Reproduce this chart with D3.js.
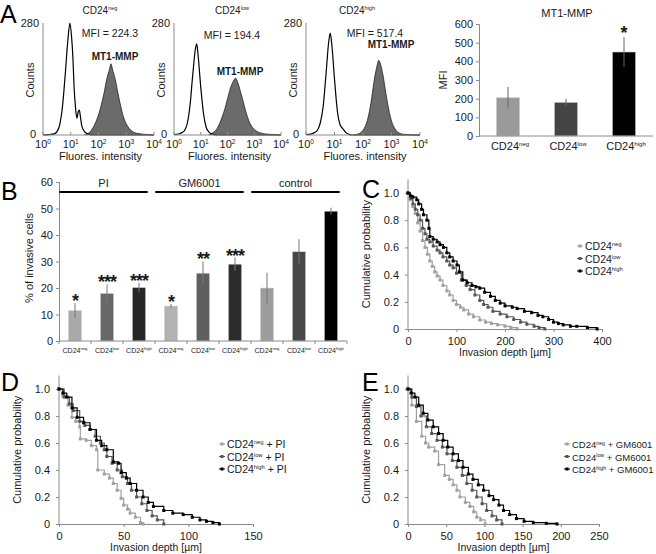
<!DOCTYPE html>
<html><head><meta charset="utf-8">
<script src="https://cdn.jsdelivr.net/npm/d3@7"></script>
<style>body{margin:0;background:#fff}svg{display:block;font-family:"Liberation Sans",Arial,sans-serif}</style>
</head><body><svg id="c" width="656" height="554"></svg>
<script>
// ---------------- DATA ----------------
const histSubsets = ["neg", "low", "high"];
const histMFI = ["224.3", "194.4", "517.4"];
const histDecadeTicks = [0, 1, 2, 3, 4];
// [log10 decade, counts]
const hist1Open = [[0,0],[0.2,1],[0.4,3],[0.5,8],[0.6,25],[0.7,70],[0.8,150],[0.9,240],[0.97,280],[1.03,245],[1.08,190],[1.12,120],[1.17,70],[1.22,42],[1.27,58],[1.31,62],[1.35,45],[1.4,22],[1.5,8],[1.6,3],[1.7,1],[1.8,0],[4,0]];
const hist1Fill = [[1.5,0],[1.6,3],[1.7,8],[1.8,18],[1.9,32],[2.0,50],[2.1,75],[2.2,105],[2.3,140],[2.4,165],[2.45,178],[2.5,165],[2.6,140],[2.7,105],[2.8,72],[2.9,45],[3.0,28],[3.1,17],[3.2,10],[3.3,6],[3.4,4],[3.5,3],[3.6,2],[3.8,1],[4.0,0]];
const hist2Open = [[0,1],[0.2,3],[0.3,6],[0.4,12],[0.5,30],[0.6,75],[0.7,150],[0.8,215],[0.85,228],[0.9,200],[1.0,120],[1.1,55],[1.2,20],[1.3,8],[1.4,3],[1.5,1],[1.6,0],[4,0]];
const hist2Fill = [[1.3,0],[1.4,3],[1.5,8],[1.6,15],[1.7,28],[1.8,45],[1.9,65],[2.0,90],[2.1,115],[2.2,132],[2.3,142],[2.4,128],[2.5,105],[2.6,80],[2.7,55],[2.8,35],[2.9,22],[3.0,14],[3.1,9],[3.2,6],[3.3,4],[3.5,2],[3.8,1],[4.0,0]];
const hist3Open = [[0,1],[0.2,3],[0.3,6],[0.4,12],[0.5,30],[0.6,70],[0.7,150],[0.8,235],[0.85,255],[0.9,230],[1.0,140],[1.1,60],[1.2,25],[1.3,15],[1.4,6],[1.5,2],[1.6,0],[4,0]];
const hist3Fill = [[1.7,0],[1.8,2],[1.9,5],[2.0,12],[2.1,25],[2.2,50],[2.3,90],[2.4,140],[2.5,175],[2.55,187],[2.6,180],[2.7,150],[2.8,105],[2.9,65],[3.0,35],[3.1,18],[3.2,8],[3.3,4],[3.4,2],[3.6,1],[3.8,0],[4,0]];

const mfiCats = ["neg", "low", "high"];
const mfiValues = [205, 180, 450];
const mfiErrors = [58, 20, 80];
const mfiTicks = [0, 100, 200, 300, 400, 500, 600];

const invCats = ["neg", "low", "high", "neg", "low", "high", "neg", "low", "high"];
const invValues = [11.5, 18, 20.2, 13.2, 25.6, 29, 20, 33.7, 49];
const invErrors = [2.8, 3.4, 1.8, 0.8, 4.5, 2.5, 5.8, 4.7, 1.3];
const invStars = ["*", "***", "***", "*", "**", "***", "", "", ""];
const invGroups = ["PI", "GM6001", "control"];
const invTicks = [0, 10, 20, 30, 40, 50, 60];

const probTicks = [0, 0.2, 0.4, 0.6, 0.8, 1.0];
// [depth µm, cumulative probability]
const cNeg = [[0,1],[5,0.95],[10,0.9],[15,0.85],[20,0.78],[25,0.72],[30,0.65],[35,0.6],[40,0.55],[45,0.5],[50,0.46],[55,0.42],[60,0.39],[66,0.36],[72,0.32],[80,0.28],[86,0.25],[93,0.21],[100,0.18],[108,0.16],[115,0.14],[125,0.11],[135,0.09],[148,0.066],[160,0.05],[172,0.04],[185,0.03],[200,0.02],[212,0.01],[225,0]];
const cLow = [[0,1],[5,0.96],[10,0.92],[15,0.88],[20,0.84],[25,0.8],[30,0.74],[35,0.7],[39,0.66],[45,0.64],[52,0.61],[60,0.58],[66,0.56],[72,0.53],[80,0.5],[86,0.47],[93,0.45],[100,0.41],[110,0.36],[120,0.32],[128,0.29],[138,0.25],[148,0.21],[156,0.18],[165,0.16],[175,0.13],[190,0.11],[204,0.09],[218,0.07],[232,0.05],[245,0.035],[260,0.02],[270,0.01],[282,0]];
const cHigh = [[0,1],[5,0.98],[10,0.97],[18,0.95],[22,0.92],[28,0.88],[32,0.84],[39,0.8],[43,0.74],[45,0.68],[52,0.66],[60,0.64],[66,0.62],[73,0.6],[80,0.56],[86,0.53],[93,0.5],[101,0.47],[106,0.42],[113,0.36],[122,0.34],[132,0.32],[140,0.31],[148,0.3],[158,0.27],[170,0.24],[180,0.21],[190,0.19],[200,0.17],[215,0.16],[225,0.15],[240,0.13],[255,0.12],[268,0.1],[278,0.09],[290,0.07],[300,0.05],[310,0.04],[320,0.03],[335,0.02],[348,0.02],[370,0.01],[390,0]];
const dNeg = [[0,1],[3,0.95],[7,0.88],[10,0.79],[13,0.76],[16,0.72],[16.5,0.63],[21,0.62],[25,0.58],[29,0.55],[30,0.4],[35,0.37],[39,0.34],[42,0.3],[45,0.25],[48,0.19],[50,0.14],[53,0.11],[55,0.08],[59,0.05],[63,0.01],[65,0]];
const dLow = [[0,1],[4,0.94],[8,0.89],[11,0.84],[16,0.76],[20,0.73],[24,0.7],[28,0.65],[32,0.6],[35,0.55],[37,0.5],[41,0.45],[45,0.4],[49,0.35],[53,0.3],[56,0.25],[60,0.2],[64,0.15],[68,0.1],[72,0.06],[76,0.03],[81,0]];
const dHigh = [[0,1],[3,0.97],[6,0.94],[10,0.86],[14,0.79],[19,0.75],[24,0.7],[29,0.62],[33,0.58],[37,0.55],[42,0.46],[46,0.45],[48,0.38],[52,0.34],[55,0.3],[60,0.25],[65,0.2],[69,0.16],[73,0.13],[81,0.1],[88,0.08],[96,0.07],[103,0.05],[109,0.03],[114,0.02],[119,0.01],[124,0]];
const eNeg = [[0,1],[5,0.88],[11,0.76],[18,0.65],[23,0.6],[27,0.57],[35,0.54],[40,0.44],[48,0.36],[54,0.33],[59,0.29],[64,0.25],[68,0.2],[75,0.16],[81,0.13],[86,0.09],[90,0.05],[95,0.03],[101,0]];
const eLow = [[0,1],[5,0.94],[11,0.87],[17,0.8],[24,0.72],[31,0.67],[38,0.62],[45,0.57],[51,0.52],[58,0.47],[64,0.42],[71,0.36],[77,0.3],[84,0.25],[90,0.2],[97,0.15],[103,0.1],[110,0.06],[116,0.03],[123,0]];
const eHigh = [[0,1],[4,0.97],[9,0.94],[14,0.88],[20,0.82],[26,0.77],[33,0.72],[40,0.67],[46,0.62],[52,0.57],[59,0.52],[66,0.47],[72,0.42],[79,0.37],[85,0.33],[92,0.29],[99,0.25],[106,0.21],[112,0.18],[119,0.14],[125,0.1],[133,0.07],[142,0.04],[152,0.02],[164,0.01],[181,0.005],[195,0]];

// ---------------- DRAW ----------------
const svg = d3.select("#c");
svg.append("rect").attr("width", 656).attr("height", 554).attr("fill", "#fff");
const AX = "#8a8a8a", TXT = "#1a1a1a";
const FF = "Liberation Sans, Arial, sans-serif";

function supText(g, x, y, base, sup, fs, anchor, ratio) {
  ratio = ratio || 0.6;
  const t = g.append("text").attr("x", x).attr("y", y).attr("font-size", fs)
    .attr("fill", TXT).attr("text-anchor", anchor || "middle");
  t.append("tspan").text(base);
  t.append("tspan").attr("font-size", fs * ratio).attr("dy", -fs * 0.36).text(sup);
  return t;
}
function plainText(g, x, y, s, fs, opts) {
  opts = opts || {};
  const t = g.append("text").attr("x", x).attr("y", y).attr("font-size", fs).attr("fill", TXT)
    .attr("text-anchor", opts.anchor || "middle").text(s);
  if (opts.bold) t.attr("font-weight", "bold");
  if (opts.rotate) t.attr("transform", `rotate(-90,${x},${y})`);
  return t;
}
function letter(x, y, s) {
  svg.append("text").attr("x", x).attr("y", y).attr("font-size", 25).attr("fill", "#000").text(s);
}
function styleAxis(g) {
  g.selectAll("path,line").attr("stroke", AX);
  g.selectAll("text").attr("fill", TXT);
}

letter(0, 23, "A"); letter(1, 200, "B"); letter(362, 198, "C"); letter(1, 391, "D"); letter(362, 391, "E");

// ---- Panel A histograms ----
const histLayouts = [{x0: 43, x1: 154}, {x0: 174, x1: 281}, {x0: 306, x1: 420}];
const histOpen = [hist1Open, hist2Open, hist3Open];
const histFill = [hist1Fill, hist2Fill, hist3Fill];
const titlePos = [100, 232, 357];
const mfiPos = [[110, 37], [232, 39], [375, 37]];
const mtPos = [[115, 60], [240, 75], [391, 48]];
histLayouts.forEach((L, i) => {
  const g = svg.append("g");
  const x = d3.scaleLinear().domain([0, 4]).range([L.x0, L.x1]);
  const y = d3.scaleLinear().domain([0, 280]).range([135, 23]);
  const area = d3.area().x(d => x(d[0])).y0(y(0)).y1(d => y(d[1])).curve(d3.curveMonotoneX);
  const line = d3.line().x(d => x(d[0])).y(d => y(d[1])).curve(d3.curveMonotoneX);
  g.append("path").datum(histFill[i]).attr("d", area).attr("fill", "#6b6b6b");
  g.append("path").datum(histFill[i]).attr("d", line).attr("fill", "none").attr("stroke", "#222").attr("stroke-width", 0.8);
  g.append("path").datum(histOpen[i]).attr("d", line).attr("fill", "none").attr("stroke", "#000").attr("stroke-width", 1.2);
  g.append("line").attr("x1", L.x0).attr("x2", L.x0).attr("y1", y(280)).attr("y2", y(0)).attr("stroke", AX);
  g.append("line").attr("x1", L.x0).attr("x2", L.x1).attr("y1", y(0)).attr("y2", y(0)).attr("stroke", AX);
  histDecadeTicks.forEach(d => {
    g.append("line").attr("x1", x(d)).attr("x2", x(d)).attr("y1", y(0)).attr("y2", y(0) - 3).attr("stroke", AX);
    supText(g, x(d), 148, "10", String(d), 11);
  });
  plainText(g, L.x0 - 4, y(280) + 4, "280", 11, {anchor: "end"});
  plainText(g, L.x0 - 7, y(0) + 3, "0", 11, {anchor: "end"});
  plainText(g, L.x0 - 9, 80, "Counts", 11, {rotate: true});
  plainText(g, (L.x0 + L.x1) / 2 + 2, 160, "Fluores. intensity", 11);
  supText(g, titlePos[i], 14, "CD24", histSubsets[i], 10, "middle", 0.55);
  plainText(g, mfiPos[i][0], mfiPos[i][1], "MFI = " + histMFI[i], 10.5);
  plainText(g, mtPos[i][0], mtPos[i][1], "MT1-MMP", 10, {bold: true});
});

// ---- Panel A bar chart ----
{
  const g = svg.append("g");
  const x = d3.scaleBand().domain(mfiCats).range([479, 653]).paddingInner(0.6).paddingOuter(0.3);
  const y = d3.scaleLinear().domain([0, 600]).range([136, 24]);
  const cols = ["#9a9a9a", "#444", "#000"];
  g.selectAll("rect.b").data(mfiValues).join("rect")
    .attr("x", (d, i) => x(mfiCats[i])).attr("width", x.bandwidth())
    .attr("y", d => y(d)).attr("height", d => y(0) - y(d)).attr("fill", (d, i) => cols[i])
    .attr("stroke", "#ccc").attr("stroke-width", 0.6);
  g.selectAll("line.e").data(mfiValues).join("line")
    .attr("x1", (d, i) => x(mfiCats[i]) + x.bandwidth() / 2).attr("x2", (d, i) => x(mfiCats[i]) + x.bandwidth() / 2)
    .attr("y1", (d, i) => y(d - mfiErrors[i])).attr("y2", (d, i) => y(d + mfiErrors[i]))
    .attr("stroke", "#666").attr("stroke-width", 1);
  const ya = g.append("g").attr("transform", "translate(479,0)")
    .call(d3.axisLeft(y).tickValues(mfiTicks).tickSize(3).tickFormat(d3.format("d")));
  ya.selectAll("text").attr("font-size", 11).attr("font-family", FF);
  styleAxis(ya);
  g.append("line").attr("x1", 479).attr("x2", 653).attr("y1", y(0)).attr("y2", y(0)).attr("stroke", AX);
  mfiCats.forEach(c => supText(g, x(c) + x.bandwidth() / 2 + 2, 150, "CD24", c, 11, "middle", 0.55));
  plainText(g, 447, 80, "MFI", 11, {rotate: true});
  plainText(g, 567, 17, "MT1-MMP", 11);
  plainText(g, x("high") + x.bandwidth() / 2, y(mfiValues[2] + mfiErrors[2]) + 2, "*", 18, {bold: true});
}

// ---- Panel B ----
{
  const g = svg.append("g");
  const idx = d3.range(invValues.length);
  const x = d3.scaleBand().domain(idx).range([59, 347]).paddingInner(0.58).paddingOuter(0.29);
  const y = d3.scaleLinear().domain([0, 60]).range([341, 182]);
  const cols = ["#aaaaaa", "#686868", "#262626", "#b2b2b2", "#5f5f5f", "#2c2c2c", "#9c9c9c", "#474747", "#000"];
  g.selectAll("rect").data(invValues).join("rect")
    .attr("x", (d, i) => x(i)).attr("width", x.bandwidth())
    .attr("y", d => y(d)).attr("height", d => y(0) - y(d)).attr("fill", (d, i) => cols[i])
    .attr("stroke", "#ddd").attr("stroke-width", 0.6);
  g.selectAll("line.e").data(invValues).join("line")
    .attr("x1", (d, i) => x(i) + x.bandwidth() / 2).attr("x2", (d, i) => x(i) + x.bandwidth() / 2)
    .attr("y1", (d, i) => y(d - invErrors[i])).attr("y2", (d, i) => y(d + invErrors[i]))
    .attr("stroke", "#777").attr("stroke-width", 1);
  invStars.forEach((s, i) => {
    if (!s) return;
    plainText(g, x(i) + x.bandwidth() / 2, y(invValues[i] + invErrors[i]) + 4, s, 18, {bold: true})
      .attr("letter-spacing", -1);
  });
  const ya = g.append("g").attr("transform", "translate(59,0)")
    .call(d3.axisLeft(y).tickValues(invTicks).tickSize(3));
  ya.selectAll("text").attr("font-size", 11).attr("font-family", FF);
  styleAxis(ya);
  g.append("line").attr("x1", 59).attr("x2", 347).attr("y1", y(0)).attr("y2", y(0)).attr("stroke", AX);
  d3.range(10).forEach(k => {
    const xx = 59 + k * (288 / 9);
    g.append("line").attr("x1", xx).attr("x2", xx).attr("y1", y(0)).attr("y2", y(0) + 3).attr("stroke", AX);
  });
  invCats.forEach((c, i) => supText(g, x(i) + x.bandwidth() / 2, 353, "CD24", c, 7, "middle", 0.6));
  invGroups.forEach((name, k) => {
    const xs = x(3 * k) - 9, xe = x(3 * k + 2) + x.bandwidth() + 2;
    g.append("line").attr("x1", xs).attr("x2", xe).attr("y1", 192).attr("y2", 192).attr("stroke", "#000").attr("stroke-width", 2);
    plainText(g, (xs + xe) / 2, 187, name, 11);
  });
  plainText(g, 33, 258, "% of invasive cells", 11, {rotate: true});
}

// ---- Survival panels ----
const greys = ["#a0a0a0", "#555555", "#000000"];
function survival(opts) {
  const g = svg.append("g");
  const x = d3.scaleLinear().domain([0, opts.xmax]).range([opts.x0, opts.x1]);
  const y = d3.scaleLinear().domain([0, 1]).range([opts.yb, opts.yt]);
  g.append("line").attr("x1", opts.x0).attr("x2", opts.x0).attr("y1", y(0)).attr("y2", y(1.1)).attr("stroke", AX);
  const ya = g.append("g").attr("transform", `translate(${opts.x0},0)`)
    .call(d3.axisLeft(y).tickValues(probTicks).tickSize(3).tickFormat(d => d === 0 ? "0" : d3.format(".1f")(d)));
  ya.select(".domain").remove();
  ya.selectAll("text").attr("font-size", 11).attr("font-family", FF).attr("dx", -3);
  styleAxis(ya);
  const xa = g.append("g").attr("transform", `translate(0,${y(0)})`)
    .call(d3.axisBottom(x).tickValues(opts.xticks).tickSize(3).tickSizeOuter(0));
  xa.selectAll("text").attr("font-size", 11).attr("font-family", FF).attr("dy", "0.9em");
  styleAxis(xa);
  const line = d3.line().x(d => x(d[0])).y(d => y(d[1])).curve(d3.curveStepAfter);
  opts.series.forEach((s, i) => {
    g.append("path").datum(s).attr("d", line).attr("fill", "none").attr("stroke", greys[i]).attr("stroke-width", 1.2);
    g.selectAll(null).data(s).join("rect")
      .attr("x", d => x(d[0]) - 1.5).attr("y", d => y(d[1]) - 1.5).attr("width", 3).attr("height", 3).attr("fill", greys[i]);
  });
  plainText(g, opts.x0 - 38, (y(0) + y(1.1)) / 2, "Cumulative probability", 11, {rotate: true});
  plainText(g, (opts.x0 + opts.x1) / 2, y(0) + 27, "Invasion depth [µm]", 10.5);
  const fs = opts.lfs;
  opts.legend.forEach((lab, i) => {
    const ly = opts.ly + i * 12.5;
    g.append("line").attr("x1", opts.lx - 3).attr("x2", opts.lx + 3).attr("y1", ly).attr("y2", ly).attr("stroke", greys[i]);
    g.append("rect").attr("x", opts.lx - 1.5).attr("y", ly - 1.5).attr("width", 3).attr("height", 3).attr("fill", greys[i]);
    const t = supText(g, opts.lx + 5, ly + 4, "CD24", histSubsets[i], fs, "start", 0.55);
    if (opts.suffix) t.append("tspan").attr("dy", fs * 0.36).attr("font-size", fs).text(" " + opts.suffix);
  });
}
survival({x0: 408, x1: 602, xmax: 400, yb: 329, yt: 193, xticks: [0, 100, 200, 300, 400],
  series: [cNeg, cLow, cHigh], legend: [0, 1, 2], lx: 580, ly: 246, suffix: "", lfs: 10.5});
survival({x0: 59, x1: 253, xmax: 150, yb: 524, yt: 389, xticks: [0, 50, 100, 150],
  series: [dNeg, dLow, dHigh], legend: [0, 1, 2], lx: 222, ly: 444, suffix: "+ PI", lfs: 10.5});
survival({x0: 408, x1: 599, xmax: 250, yb: 524, yt: 389, xticks: [0, 50, 100, 150, 200, 250],
  series: [eNeg, eLow, eHigh], legend: [0, 1, 2], lx: 567, ly: 444, suffix: "+ GM6001", lfs: 9.5});
</script></body></html>
